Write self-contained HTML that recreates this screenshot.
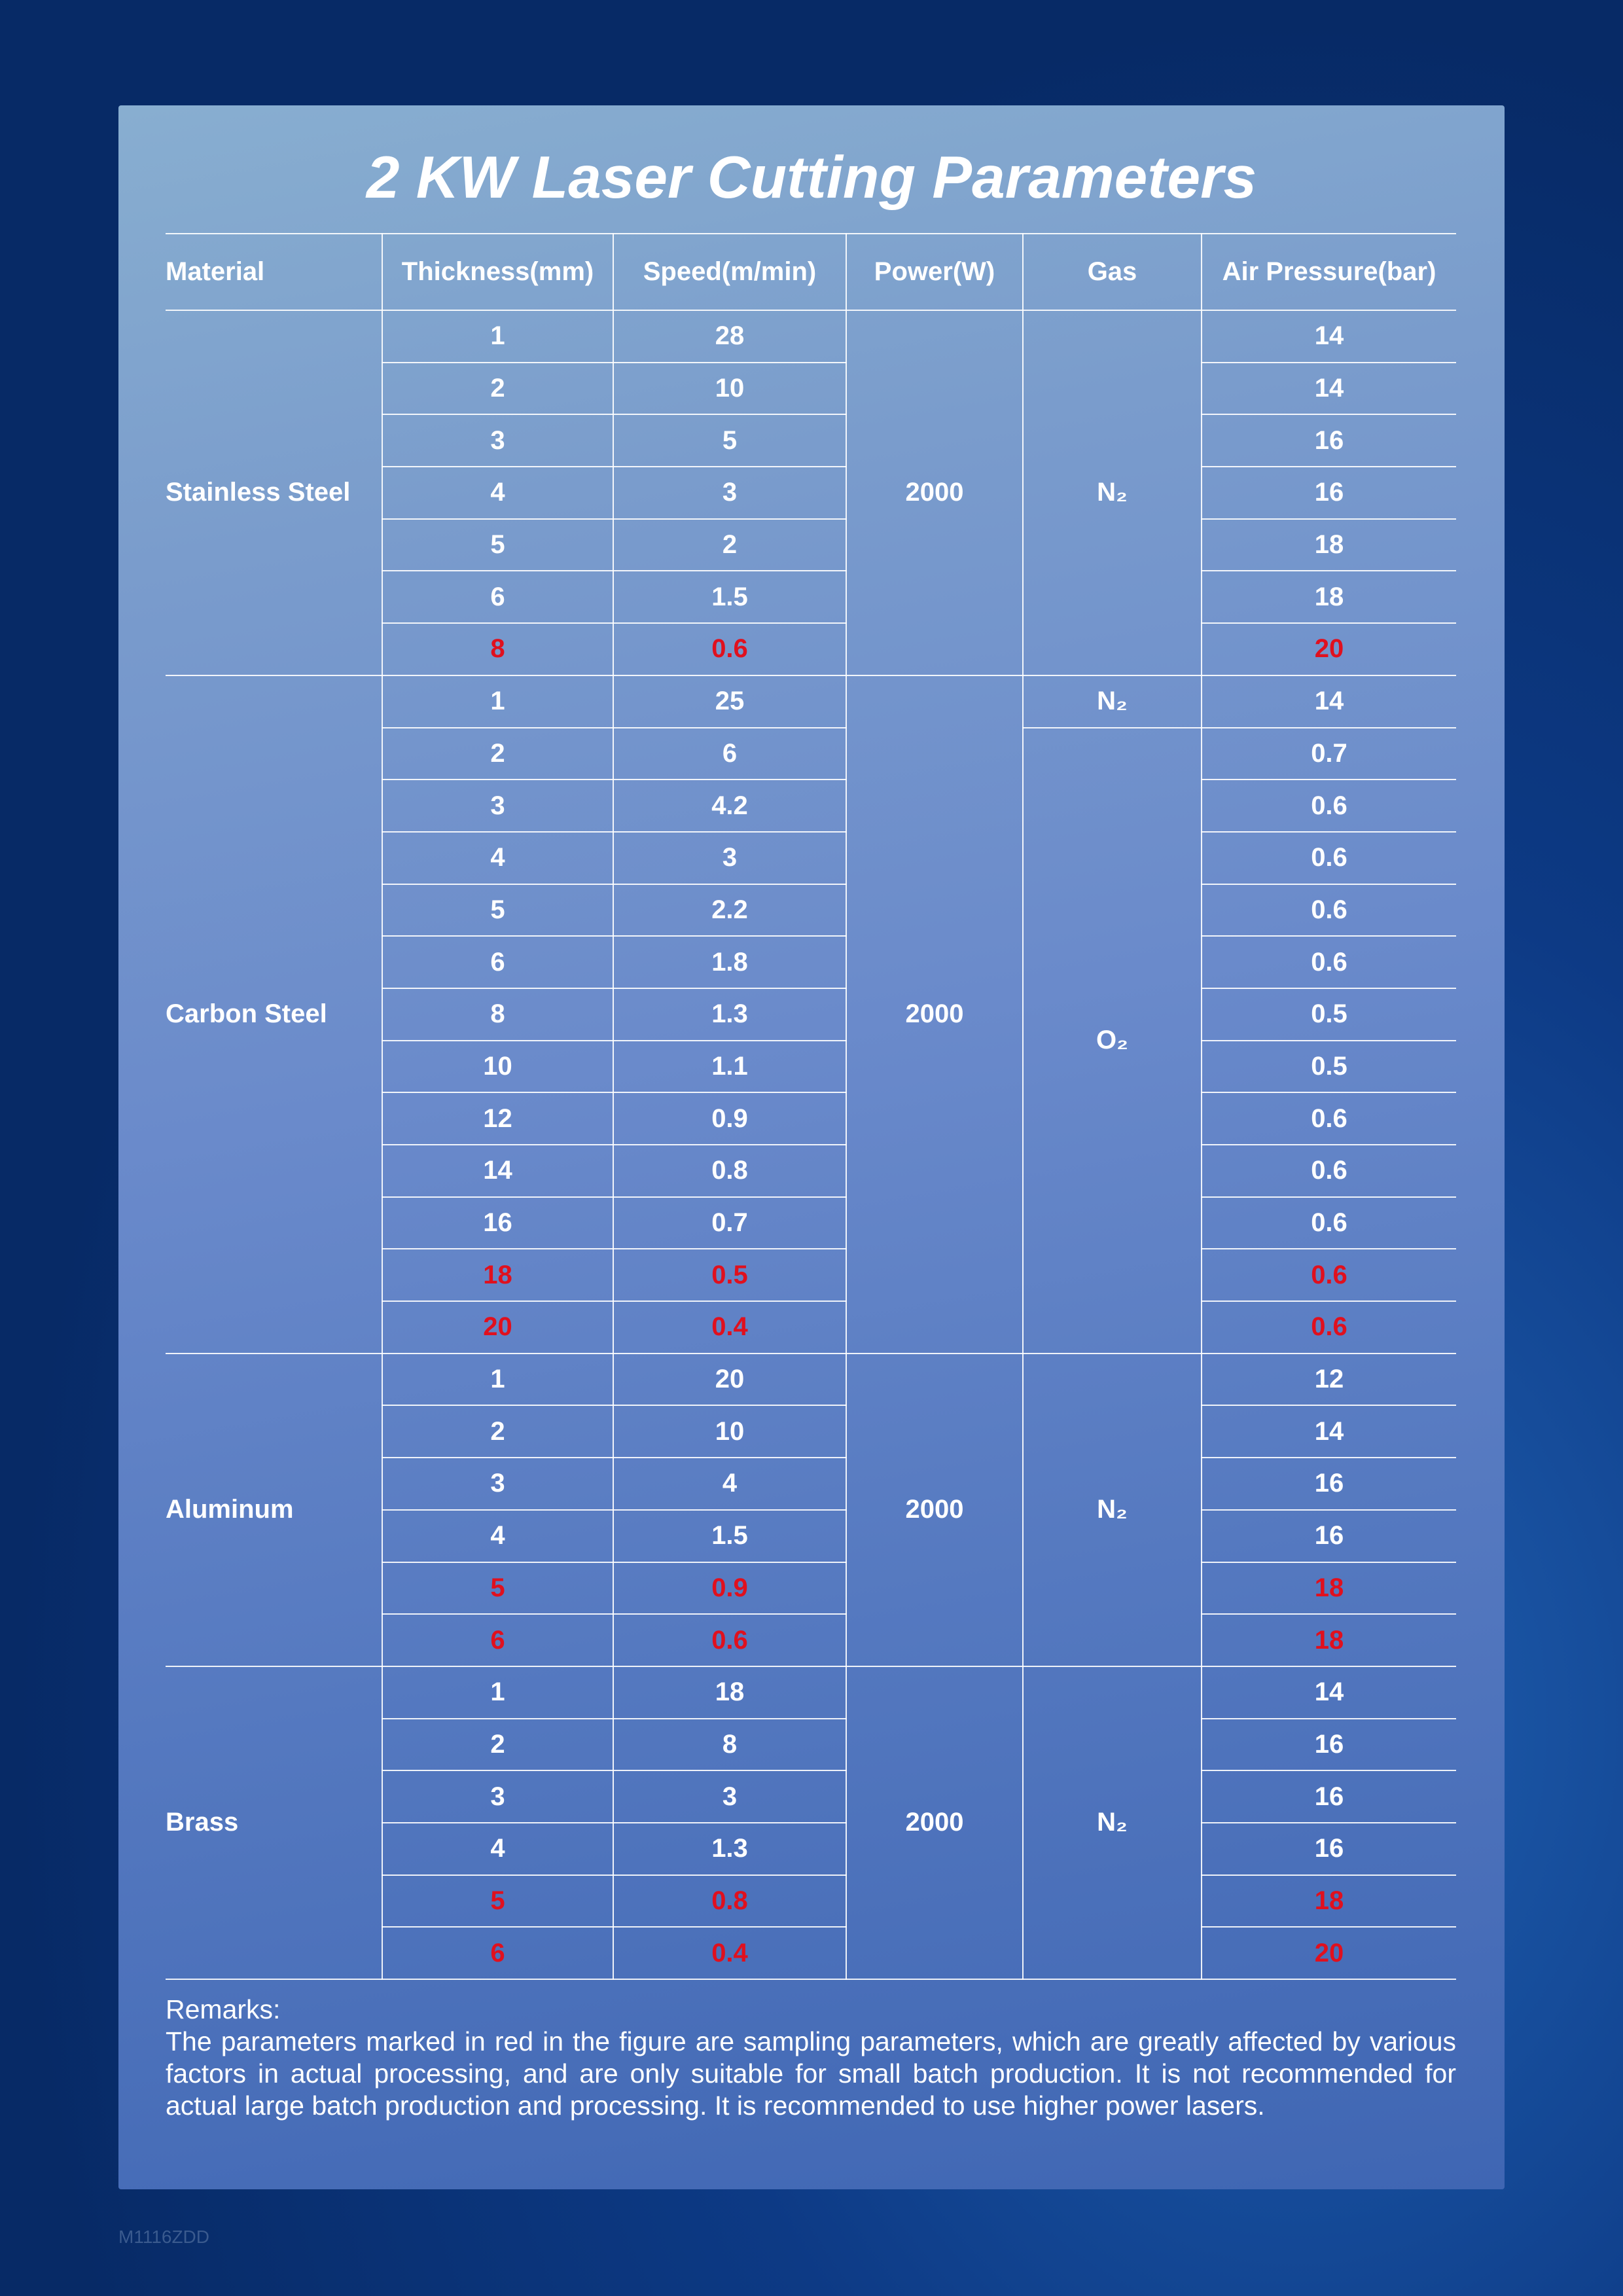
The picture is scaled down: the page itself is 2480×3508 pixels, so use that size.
<!DOCTYPE html>
<html><head><meta charset="utf-8">
<style>
html,body{margin:0;padding:0;}
body{width:2480px;height:3508px;position:relative;overflow:hidden;
background:radial-gradient(ellipse at 80% 75%,#1f5fb0 0%,#0d3a85 35%,#072a66 70%),#072a66;
font-family:"Liberation Sans",Arial,sans-serif;}
.panel{position:absolute;left:181px;top:161px;width:2118px;height:3184px;
background:linear-gradient(170deg,#88aed0 0%,#7a9ccc 20%,#6a8acb 45%,#5579c0 70%,#3f66b3 100%);border-radius:4px;}
.title{position:absolute;left:0;width:100%;top:226px;text-align:center;color:#fff;
font-size:91px;font-style:italic;font-weight:bold;line-height:1;}
table{position:absolute;left:253px;top:356px;border-collapse:collapse;table-layout:fixed;color:#fff;font-weight:bold;font-size:40px;}
td{border:2px solid rgba(255,255,255,0.9);height:77.7px;padding:0;text-align:center;vertical-align:middle;}
tr.h td{height:115px;}
td.m{text-align:left;border-left:none;}
td.last{border-right:none;}
.r{color:#e0101e;}
.rem{position:absolute;left:253px;top:3046px;width:1972px;color:#fff;font-size:41px;line-height:49px;text-align:justify;}
.code{position:absolute;left:181px;top:3402px;color:#3a5a8e;font-size:28px;}
</style></head><body>
<div class="panel"></div>
<div class="title">2 KW Laser Cutting Parameters</div>
<table>
<colgroup><col style="width:331px"><col style="width:353px"><col style="width:356px"><col style="width:270px"><col style="width:273px"><col style="width:389px"></colgroup>
<tr class="h"><td class="m">Material</td><td>Thickness(mm)</td><td>Speed(m/min)</td><td>Power(W)</td><td>Gas</td><td class="last">Air Pressure(bar)</td></tr>
<tr><td class="m" rowspan="7">Stainless Steel</td><td>1</td><td>28</td><td rowspan="7">2000</td><td rowspan="7">N₂</td><td class="last">14</td></tr>
<tr><td>2</td><td>10</td><td class="last">14</td></tr>
<tr><td>3</td><td>5</td><td class="last">16</td></tr>
<tr><td>4</td><td>3</td><td class="last">16</td></tr>
<tr><td>5</td><td>2</td><td class="last">18</td></tr>
<tr><td>6</td><td>1.5</td><td class="last">18</td></tr>
<tr class="r"><td>8</td><td>0.6</td><td class="last">20</td></tr>
<tr><td class="m" rowspan="13">Carbon Steel</td><td>1</td><td>25</td><td rowspan="13">2000</td><td>N₂</td><td class="last">14</td></tr>
<tr><td>2</td><td>6</td><td rowspan="12">O₂</td><td class="last">0.7</td></tr>
<tr><td>3</td><td>4.2</td><td class="last">0.6</td></tr>
<tr><td>4</td><td>3</td><td class="last">0.6</td></tr>
<tr><td>5</td><td>2.2</td><td class="last">0.6</td></tr>
<tr><td>6</td><td>1.8</td><td class="last">0.6</td></tr>
<tr><td>8</td><td>1.3</td><td class="last">0.5</td></tr>
<tr><td>10</td><td>1.1</td><td class="last">0.5</td></tr>
<tr><td>12</td><td>0.9</td><td class="last">0.6</td></tr>
<tr><td>14</td><td>0.8</td><td class="last">0.6</td></tr>
<tr><td>16</td><td>0.7</td><td class="last">0.6</td></tr>
<tr class="r"><td>18</td><td>0.5</td><td class="last">0.6</td></tr>
<tr class="r"><td>20</td><td>0.4</td><td class="last">0.6</td></tr>
<tr><td class="m" rowspan="6">Aluminum</td><td>1</td><td>20</td><td rowspan="6">2000</td><td rowspan="6">N₂</td><td class="last">12</td></tr>
<tr><td>2</td><td>10</td><td class="last">14</td></tr>
<tr><td>3</td><td>4</td><td class="last">16</td></tr>
<tr><td>4</td><td>1.5</td><td class="last">16</td></tr>
<tr class="r"><td>5</td><td>0.9</td><td class="last">18</td></tr>
<tr class="r"><td>6</td><td>0.6</td><td class="last">18</td></tr>
<tr><td class="m" rowspan="6">Brass</td><td>1</td><td>18</td><td rowspan="6">2000</td><td rowspan="6">N₂</td><td class="last">14</td></tr>
<tr><td>2</td><td>8</td><td class="last">16</td></tr>
<tr><td>3</td><td>3</td><td class="last">16</td></tr>
<tr><td>4</td><td>1.3</td><td class="last">16</td></tr>
<tr class="r"><td>5</td><td>0.8</td><td class="last">18</td></tr>
<tr class="r"><td>6</td><td>0.4</td><td class="last">20</td></tr>
</table>
<div class="rem">Remarks:<br>The parameters marked in red in the figure are sampling parameters, which are greatly affected by various factors in actual processing, and are only suitable for small batch production. It is not recommended for actual large batch production and processing. It is recommended to use higher power lasers.</div>
<div class="code">M1116ZDD</div>
</body></html>
